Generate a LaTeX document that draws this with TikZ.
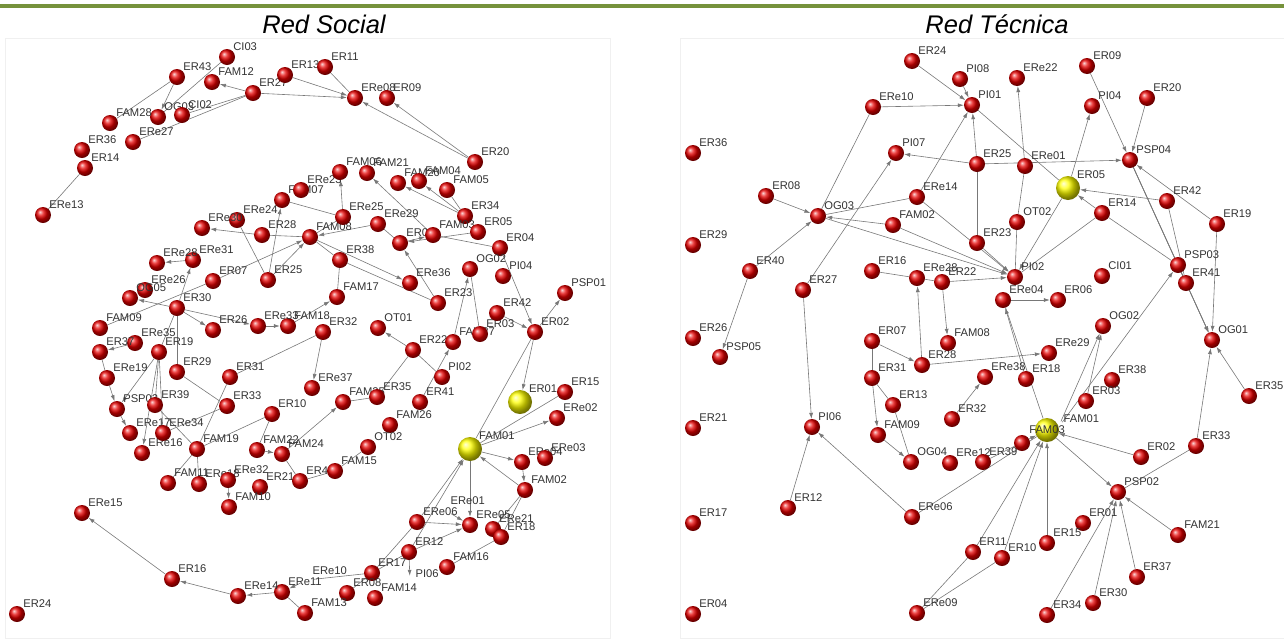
\documentclass[tikz,border=0pt]{standalone}
\usepackage{fontspec}
\setmainfont{Liberation Sans}
\usetikzlibrary{positioning,arrows.meta}
\definecolor{barGreen}{RGB}{118,146,60}
\definecolor{lnkGray}{RGB}{120,120,120}
\pgfdeclarelayer{bg}
\pgfsetlayers{bg,main}
\tikzset{
  rball/.style={circle, minimum size=16pt, inner sep=0pt, ball color=red!90!black},
  yball/.style={circle, minimum size=24pt, inner sep=0pt, ball color=yellow},
  hball/.style={circle, minimum size=14pt, inner sep=0pt},
  lbl/.style={font=\fontsize{11.2}{11.2}\selectfont, text=black!80, inner sep=0.3pt},
  ttl/.style={font=\fontsize{25.5}{26}\selectfont\itshape},
  lnk/.style={draw=lnkGray, line width=0.6pt},
  arr/.style={lnk, ->},
}
\begin{document}
\begin{tikzpicture}[x=1pt, y=-1pt, >={Latex[length=6pt,width=4pt]}]
\useasboundingbox (0,0) rectangle (1284,638);

% top bar and titles
\fill[barGreen] (0,3.5) rectangle (1284,7.5);
\node[ttl] (ttlSocial) at (324,24) {Red Social};
\node[ttl] (ttlTecnica) at (997,24) {Red Técnica};
\draw[black!6] (5,38) rectangle (610,638);
\draw[black!6] (680,38) rectangle (1284,638);

% ---- Red Social ----
\foreach \n/\x/\y in {CI03/227/57, ER43/177/77, FAM12/212/82, ER27/253/93, ER13/285/75,
    ER11/325/67, ERe08/355/98, ER09/387/98, OG03/158/117, CI02/182/115, FAM28/110/123,
    ERe27/133/142, ER36/82/150, ER14/85/168, ERe13/43/215, ER20/475/162,
    FAM07/282/200, ERe23/301/190, FAM06/340/172, FAM21/367/173, FAM20/398/183,
    FAM04/419/181, FAM05/447/190, ER34/465/216, ERe24/237/220, ERe30/202/228,
    ER28/262/235, FAM08/310/237, ERe25/343/217, ERe29/378/224, ER06/400/243,
    FAM03/433/235, ER05/478/232, ER04/500/248, OG02/470/269, PI04/503/276,
    ER38/340/260, ERe36/410/283, ER23/438/303, FAM17/337/297, FAM18/288/326,
    ER32/323/332, ERe33/258/326, ER26/213/330, ER30/177/308, ER07/213/281,
    ER25/268/280, ERe31/193/260, ERe28/157/263, ERe26/145/290, OG05/130/298,
    FAM09/100/328, ERe35/135/343, ER37/100/352, ER19/159/352, ER29/177/372,
    ERe19/107/378, PSP02/117/409, ER39/155/405, ER31/230/377, ER33/227/406,
    ER10/272/414, ERe37/312/388, FAM25/343/402, ER35/377/397, OT01/378/328,
    ER22/413/350, FAM27/453/342, PI02/442/377, ER41/420/402, FAM26/390/425,
    ER03/480/334, ER42/497/313, ER02/535/332, PSP01/565/293, ER15/565/392,
    ERe02/557/418, ERe04/522/462, ERe03/545/458, FAM02/525/490, ERe06/417/522,
    ERe05/470/525, ERe21/493/529, ER18/501/537, ER12/409/552, FAM16/447/567,
    ER17/372/573, ER08/347/593, FAM14/375/598, FAM13/305/613, ERe11/282/592,
    ERe14/238/596, ER16/172/579, ERe15/82/513, ER24/17/614, ERe17/130/433,
    ERe16/142/453, ERe34/163/433, FAM19/197/449, FAM22/257/450, FAM24/282/454,
    FAM11/168/483, ERe18/199/484, ERe32/228/480, ER21/260/487, FAM10/229/507,
    ER40/300/481, FAM15/335/471, OT02/368/447}
  \node[rball, label={[lbl]45:\n}] (s\n) at (\x,\y) {};
\node[yball, label={[lbl]45:ER01}] (sER01) at (520,402) {};
\node[yball, label={[lbl]45:FAM01}] (sFAM01) at (470,449) {};
\node[hball, label={[lbl]45:ERe01}] (sERe01) at (445,510) {};
\node[hball, label={[lbl]45:PI06}] (sPI06) at (410,583) {};
\node[hball, label={[lbl]45:ERe10}] (sERe10) at (307,580) {};

\begin{pgfonlayer}{bg}
\foreach \a/\b in {ER27/FAM12, ER27/ERe08, ER13/ERe08, ER20/ERe08, ER20/ER09, ER43/OG03,
    FAM03/FAM21, ER34/FAM20, ER34/FAM04, ERe25/FAM06, ER25/FAM07, ER28/ERe30,
    ER07/FAM08, ER25/FAM08, ERe29/FAM08, FAM08/ERe36, ER23/ER06, ER05/ER06,
    ER06/FAM03, ER04/ER02, ER42/ER02, FAM27/OG02, ER02/PSP01, ER02/ER01,
    FAM18/FAM17, ER32/ERe37, ER30/ER26, ER30/ERe33, ERe33/FAM18, ER30/ERe31,
    ER30/OG05, ERe31/ERe28, ER19/PSP02, ERe35/ER37, ERe19/PSP02, PSP02/ERe17,
    ER19/ERe16, ERe32/FAM10, FAM22/FAM24, ER22/OT01, ER41/FAM27, FAM24/FAM25,
    FAM01/ERe02, FAM01/ERe04, FAM02/FAM01, ERe04/FAM02, ERe01/ERe05, ERe06/ERe05,
    ERe06/FAM01, ER12/FAM01, ER12/ERe05, ER12/PI06, ERe14/ER16, ERe11/ERe14,
    ER16/ERe15, ERe10/ERe11, FAM01/ERe05}
  \draw[arr] (s\a) -- (s\b);
\foreach \a/\b in {ERe27/ER27, CI02/ER27, ER11/ERe08, FAM28/ER43, OG03/CI03, ER14/ERe13,
    FAM05/ER34, FAM07/ERe25, ER28/FAM08, ERe24/ER25, ERe25/FAM08, FAM08/ER38,
    ER38/ER23, ERe29/ER06, FAM03/ER04, OG02/ER03, ER02/FAM01, ER38/FAM17,
    ER31/ER32, ER30/ER29, ER07/FAM09, ER19/ER30, ER39/ER19, ER29/ER33, ER37/ERe19,
    ER39/FAM19, ER31/FAM19, ER10/FAM19, ER10/FAM22, FAM19/FAM11, FAM19/ERe18,
    ER40/FAM24, ER40/FAM15, FAM15/OT02, ER22/PI02, ER22/ER35, FAM25/ER35,
    FAM01/ER15, ER17/ERe06, ERe21/FAM02, ER18/FAM02, FAM16/ER18, ERe10/ER17,
    ER08/ER17, FAM13/ERe11, ER12/ER17, ERe34/ER33, ER19/ERe34}
  \draw[lnk] (s\a) -- (s\b);
\end{pgfonlayer}

% ---- Red Tecnica ----
\foreach \n/\x/\y in {ER24/912/61, PI08/960/79, ERe10/873/107, PI01/972/105, ER36/693/153,
    PI07/896/153, ER08/766/196, ERe14/917/197, OG03/818/216, FAM02/893/225,
    ERe22/1017/78, ER09/1087/66, PI04/1092/106, ER20/1147/98, ER25/977/164,
    ERe01/1025/166, PSP04/1130/160, ER42/1167/201, ER14/1102/213, ER19/1217/224,
    OT02/1017/222, ER23/977/243, PI02/1015/277, ERe04/1003/300, ER06/1058/300,
    CI01/1102/276, OG02/1103/326, PSP03/1178/265, ER41/1186/283, OG01/1212/340,
    ERe29/1049/353, ER18/1026/379, ERe38/985/377, ER38/1112/380, ER03/1086/401,
    ER35/1249/396, ER32/952/419, ERe12/950/463, ER39/983/462, ER02/1141/457,
    ER33/1196/446, PSP02/1118/492, ER01/1083/523, FAM21/1178/535, ER15/1047/543,
    ER11/973/552, ER10/1002/558, ER37/1137/577, ER30/1093/603, ER34/1047/615,
    ERe09/917/613, ER04/693/614, ER17/693/523, ER12/788/508, ERe06/912/517,
    PI06/812/427, ER21/693/428, FAM09/878/435, OG04/911/462, ER13/893/405,
    ER31/872/378, ER07/872/341, ER28/922/365, FAM08/948/343, ER16/872/271,
    ERe28/917/278, ER22/942/282, ER40/750/271, ER27/803/290, ER29/693/245,
    ER26/693/338, PSP05/720/357}
  \node[rball, label={[lbl]45:\n}] (t\n) at (\x,\y) {};
\node[rball] (tx1) at (1022,443) {};
\node[hball, label={[lbl]45:FAM01}] (tFAM01) at (1058,428) {};
\node[yball, label={[lbl]45:ER05}] (tER05) at (1068,188) {};
\node[yball, label={[lbl]center:FAM03}] (tFAM03) at (1047,430) {};

\begin{pgfonlayer}{bg}
\foreach \a/\b in {ER24/PI01, ERe10/PI01, PI08/PI01, ER27/PI07, ER25/PI07, ER25/PSP04,
    ERe14/PI01, ER25/PI01, ERe01/ERe22, ER05/PI04, ER09/PSP04, ER20/PSP04,
    ER19/PSP04, ER14/ER05, ER42/ER05, ER19/OG01, PSP03/OG01, ER41/OG01, ER35/OG01,
    ER33/OG01, PSP04/OG01, FAM01/PSP03, ER05/PI02, ER08/OG03, ER40/OG03,
    FAM02/OG03, FAM02/PI02, OG03/PI02, ERe14/PI02, ER23/PI02, ER22/PI02,
    ER22/FAM08, ERe04/ER06, ER07/ER28, ER31/FAM09, ER28/ERe29, ER28/ERe28,
    FAM09/OG04, ER18/ERe04, ER32/ERe38, ER02/FAM03, FAM03/PSP02, ER15/FAM03,
    ER10/FAM03, ER11/FAM03, FAM21/PSP02, ER37/PSP02, ER30/PSP02, ER34/PSP02,
    ER12/PI06, ERe06/PI06, ER27/PI06, ER40/PSP05, ER03/OG02, FAM01/OG02, ER39/FAM03}
  \draw[arr] (t\a) -- (t\b);
\foreach \a/\b in {ERe10/OG03, PI01/ER05, ERe01/OT02, ER25/ER23, PSP04/PSP03, PSP04/ER41,
    ER42/ER41, ER33/PSP02, ER14/PI02, ERe14/OG03, ER16/ERe28, ERe28/ER22,
    ER07/ER31, ER31/ER13, ER13/OG04, ERe04/FAM03, FAM03/ERe06, ERe09/ER10,
    ERe09/ER11, ER14/PSP03, OT02/PI02}
  \draw[lnk] (t\a) -- (t\b);
\end{pgfonlayer}

\end{tikzpicture}
\end{document}
